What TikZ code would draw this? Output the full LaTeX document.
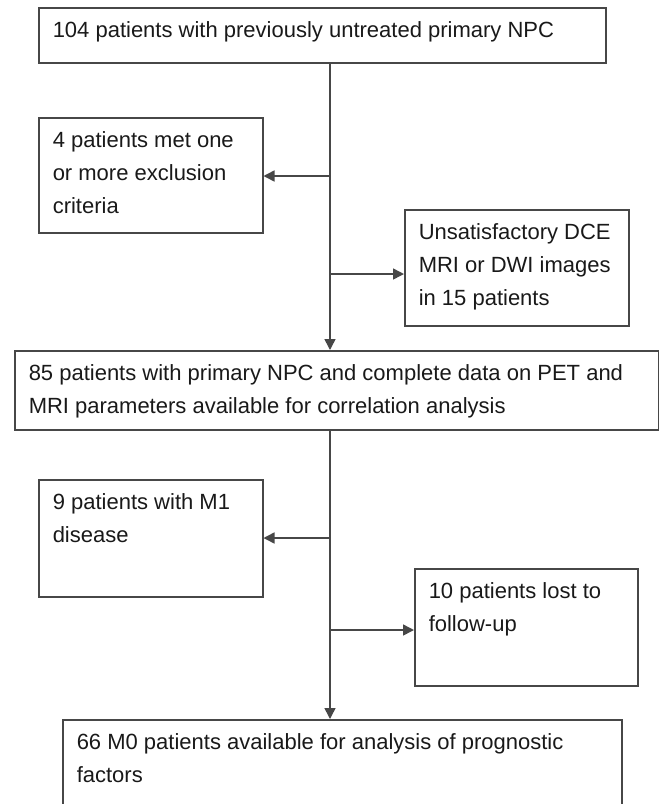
\documentclass[tikz,border=0pt]{standalone}
\usepackage{fontspec}
\setmainfont{Liberation Sans}
\usetikzlibrary{arrows.meta}
\newcommand{\boxtext}[3]{\parbox[t][#2pt][t]{#1pt}{\raggedright\fontsize{22}{33}\selectfont\rule{0pt}{30pt}#3}}
\begin{document}
\begin{tikzpicture}[x=1pt,y=-1pt,
  flowbox/.style={draw=black!72, line width=1.5pt, inner xsep=14pt, inner ysep=0pt, anchor=north west, text=black!90},
  arr/.style={draw=black!72, line width=1.5pt, -{Triangle[length=11pt,width=11pt]}},
  plain/.style={draw=black!72, line width=1.5pt}]
\useasboundingbox (0,0) rectangle (659,804);
\clip (0,0) rectangle (659,804);
\node[flowbox] (b1) at (38,7) {\boxtext{539}{55}{104 patients with previously untreated primary NPC}};
\node[flowbox] (b4) at (38,117) {\boxtext{196}{115}{4 patients met one or more exclusion criteria}};
\node[flowbox] (bu) at (404,209) {\boxtext{196}{116}{Unsatisfactory DCE MRI or DWI images in 15 patients}};
\node[flowbox] (b85) at (14,350) {\boxtext{616}{79}{85 patients with primary NPC and complete data on PET and MRI parameters available for correlation analysis}};
\node[flowbox] (b9) at (38,479) {\boxtext{196}{117}{9 patients with M1 disease}};
\node[flowbox] (b10) at (414,568) {\boxtext{195}{117}{10 patients lost to follow-up}};
\node[flowbox] (b66) at (62,719) {\boxtext{531}{130}{66 M0 patients available for analysis of prognostic factors}};
\coordinate (s1) at (330,62);
\coordinate (j1) at (330,176);
\coordinate (j2) at (330,274);
\coordinate (s2) at (330,429);
\coordinate (j3) at (330,538);
\coordinate (j4) at (330,630);
\draw[arr] (s1) -- (b85.north -| s1);
\draw[arr] (j1) -- (b4.east |- j1);
\draw[arr] (j2) -- (bu.west |- j2);
\draw[arr] (s2) -- (b66.north -| s2);
\draw[arr] (j3) -- (b9.east |- j3);
\draw[arr] (j4) -- (b10.west |- j4);
\end{tikzpicture}
\end{document}
